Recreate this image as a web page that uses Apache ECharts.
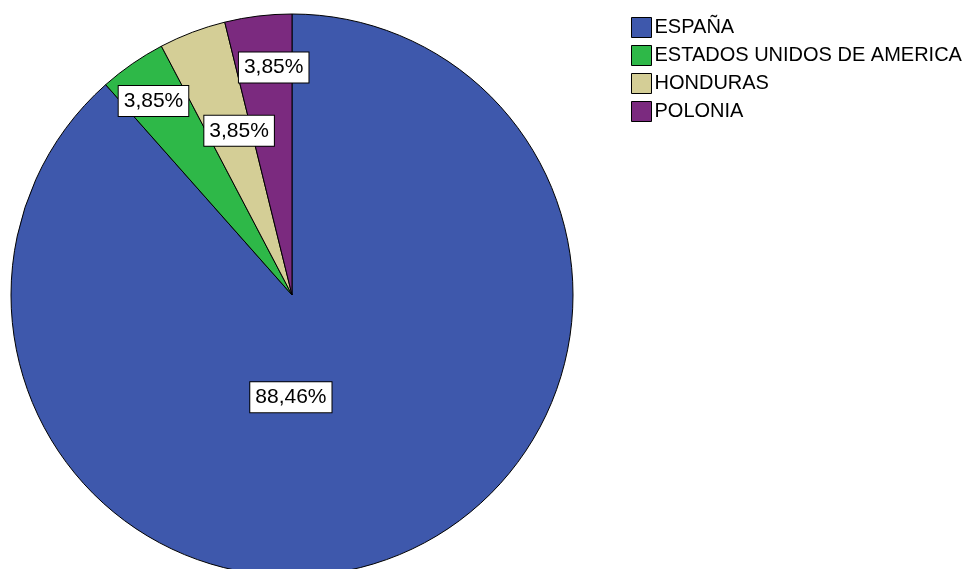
<!DOCTYPE html>
<html>
<head>
<meta charset="utf-8">
<script src="https://cdn.jsdelivr.net/npm/echarts@6/dist/echarts.min.js"></script>
<style>
html,body{margin:0;padding:0;background:#fff;}
#chart{width:967px;height:569px;}
</style>
</head>
<body>
<div id="chart"></div>
<script>
const categories = ['ESPAÑA', 'ESTADOS UNIDOS DE AMERICA', 'HONDURAS', 'POLONIA'];
const counts = [23, 1, 1, 1];
const colors = ['#3E58AC', '#2EB848', '#D4CE96', '#7B2A7F'];
const labelOffsets = [[-52, -32], [-57, -76], [-2, -30], [-1, -85]];

const total = counts.reduce((a, b) => a + b, 0);
const FONT = 'Liberation Sans, Arial, sans-serif';
const chart = echarts.init(document.getElementById('chart'));
chart.setOption({
  backgroundColor: '#fff',
  animation: false,
  legend: {
    orient: 'vertical',
    left: 631,
    top: 17,
    padding: 0,
    itemWidth: 20,
    itemHeight: 20,
    itemGap: 7,
    icon: 'rect',
    data: categories,
    textStyle: { fontFamily: FONT, fontSize: 20, color: '#000', padding: [0, 0, 0, -2] },
    itemStyle: { borderColor: '#000', borderWidth: 1 }
  },
  series: [{
    type: 'pie',
    center: [292, 295],
    radius: 281,
    startAngle: 90,
    clockwise: true,
    avoidLabelOverlap: false,
    itemStyle: { borderColor: '#000', borderWidth: 1 },
    emphasis: { disabled: true },
    label: {
      show: true,
      position: 'inside',
      formatter: p => (p.value / total * 100).toFixed(2).replace('.', ',') + '%',
      fontFamily: FONT,
      fontSize: 21,
      color: '#000',
      backgroundColor: '#fff',
      borderColor: '#000',
      borderWidth: 1,
      padding: [5, 5, 4, 5]
    },
    labelLine: { show: false },
    data: categories.map((c, i) => ({
      name: c,
      value: counts[i],
      itemStyle: { color: colors[i] },
      label: { offset: labelOffsets[i] }
    }))
  }]
});
</script>
</body>
</html>
